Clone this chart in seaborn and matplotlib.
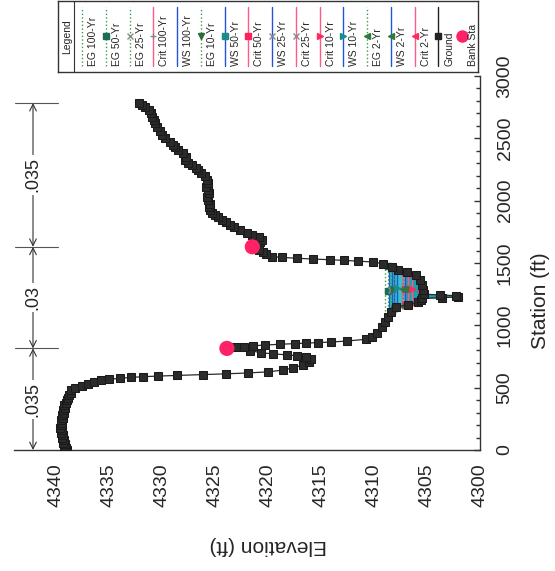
import numpy as np
import matplotlib
matplotlib.use("Agg")
import matplotlib.pyplot as plt
import matplotlib.transforms as mtransforms
from matplotlib.ticker import MultipleLocator
import seaborn as sns

# ground survey points, station (ft) and elevation (ft)
ground_sta = [0, 15, 30, 45, 60, 80, 100, 120, 140, 160, 180, 200, 220, 240, 260, 280, 300,
              320, 340, 360, 380, 400, 420, 440, 460, 481, 500, 515, 530, 545, 558, 567, 575,
              582, 588, 593, 598, 604, 611, 618, 627, 641, 658, 682, 706, 730, 748, 756, 763,
              771, 780, 798, 815, 824, 830, 836, 842, 848, 853, 857, 861, 866, 874, 888, 910,
              940, 985, 1030, 1067, 1110, 1147, 1165, 1185, 1205, 1216, 1222, 1228, 1238, 1244,
              1250, 1280, 1320, 1360, 1400, 1425, 1440, 1467, 1495, 1508, 1515, 1521, 1526, 1532,
              1538, 1545, 1552, 1570, 1590, 1608, 1630, 1648, 1665, 1685, 1708, 1725, 1742, 1764,
              1785, 1804, 1825, 1844, 1865, 1884, 1905, 1925, 1950, 1975, 2005, 2030, 2060, 2085,
              2110, 2140, 2165, 2195, 2221, 2245, 2261, 2285, 2305, 2325, 2350, 2382, 2406, 2430,
              2450, 2470, 2500, 2526, 2555, 2590, 2620, 2645, 2670, 2700, 2726, 2750, 2770, 2783]
ground_elev = [4339.0, 4339.1, 4339.3, 4339.2, 4339.4, 4339.3, 4339.5, 4339.4, 4339.6, 4339.5,
               4339.7, 4339.6, 4339.5, 4339.6, 4339.4, 4339.5, 4339.3, 4339.4, 4339.2, 4339.3,
               4339.1, 4339.0, 4338.9, 4338.8, 4338.6, 4338.6, 4338.2, 4337.6, 4337.0, 4336.4,
               4335.8, 4335.0, 4334.0, 4333.0, 4331.8, 4330.4, 4328.6, 4326.2, 4324.0, 4321.9,
               4320.0, 4318.6, 4317.7, 4316.7, 4316.1, 4316.0, 4316.4, 4317.3, 4318.2, 4319.5,
               4320.7, 4321.7, 4323.9, 4323.0, 4322.3, 4321.4, 4320.3, 4318.9, 4317.5, 4316.4,
               4315.3, 4314.1, 4312.6, 4310.8, 4310.2, 4309.7, 4309.3, 4309.0, 4308.7, 4308.4,
               4307.9, 4306.8, 4305.9, 4305.6, 4305.5, 4303.6, 4302.1, 4302.3, 4303.8, 4305.3,
               4305.4, 4305.5, 4305.7, 4306.0, 4306.9, 4307.7, 4308.3, 4309.2, 4310.1, 4311.5,
               4312.8, 4314.2, 4315.8, 4317.3, 4318.7, 4319.6, 4320.2, 4320.5, 4320.9, 4321.5,
               4321.2, 4320.8, 4320.6, 4320.9, 4321.5, 4322.0, 4322.7, 4323.2, 4323.6, 4324.0,
               4324.4, 4324.7, 4325.0, 4325.3, 4325.5, 4325.6, 4325.5, 4325.7, 4325.8, 4325.6,
               4325.7, 4325.9, 4325.7, 4325.8, 4326.0, 4326.3, 4326.6, 4326.8, 4327.2, 4327.6,
               4327.9, 4327.8, 4328.0, 4328.5, 4328.8, 4329.0, 4329.3, 4329.7, 4330.0, 4330.2,
               4330.5, 4330.7, 4330.8, 4331.0, 4331.1, 4331.3, 4331.6, 4331.9, 4332.2]

bank_sta = [815, 1630]
bank_elev = [4323.9, 4321.5]

# manning's n regions
n_bounds = [0, 815, 1630, 2783]
n_values = [".035", ".03", ".035"]

profiles = ["100-Yr", "50-Yr", "25-Yr", "10-Yr", "2-Yr"]
ws_elev = [4308.6, 4308.35, 4308.1, 4307.8, 4307.1]
eg_elev = [4309.0, 4308.7, 4308.45, 4308.1, 4307.3]
crit_elev = [4307.4, 4307.1, 4306.8, 4306.4, 4305.7]

EG_C, WS_C, CR_C = "#3f9a45", "#1f55d6", "#ff5a86"
prof_marker = [None, "s", "x", ">", "<"]
eg_mc = [EG_C, "#1e6b57", "#8a8a8a", "#2d6b3a", "#2d7a3a"]
ws_mc = [WS_C, "#1e8a8a", "#8a8a8a", "#1a8c8c", "#2d7a3a"]
cr_mc = ["#888888", "#ff1f5a", "#8a8a8a", "#ff2a5f", "#ff2a5f"]

W, H = 555, 571

sns.set_theme(style="white")
plt.rcParams["font.family"] = ["Liberation Sans", "DejaVu Sans"]

sta = np.asarray(ground_sta, float)
el = np.asarray(ground_elev, float)


def wet_extent(z):
    """stations where the water level z meets the ground on each side of the thalweg"""
    i0 = int(np.argmin(el))
    i = i0
    while i > 0 and el[i - 1] < z:
        i -= 1
    s_left = np.interp(z, [el[i], el[i - 1]], [sta[i], sta[i - 1]])
    j = i0
    while j < len(el) - 1 and el[j + 1] < z:
        j += 1
    s_right = np.interp(z, [el[j], el[j + 1]], [sta[j], sta[j + 1]])
    return s_left, s_right


fig = plt.figure(figsize=(W / 100, H / 100), dpi=100)
ax = fig.add_axes([14 / W, (H - 450) / H, 466 / W, 374 / H])

# water fill
ax.fill_betweenx(sta, el, ws_elev[0], where=el < ws_elev[0], interpolate=True,
                 color="#34c3cf", lw=0, zorder=1)
ax.fill_betweenx(sta, el, ws_elev[-1], where=el < ws_elev[-1], interpolate=True,
                 color="#1d9fae", lw=0, zorder=1)

# profile lines
for k in range(len(profiles)):
    for z, c, ls, mc in [(eg_elev[k], EG_C, ":", eg_mc[k]),
                         (ws_elev[k], WS_C, "-", ws_mc[k]),
                         (crit_elev[k], CR_C, "-", cr_mc[k])]:
        s0, s1 = wet_extent(z)
        mk = prof_marker[k] if prof_marker[k] else ("+" if c == CR_C else None)
        ax.plot([z, z, z], [s0, (s0 + s1) / 2, s1], color=c, ls=ls, lw=1,
                marker=mk, mfc=mc, mec=mc, ms=4.5, zorder=2)

# ground
sns.lineplot(x=ground_elev, y=ground_sta, sort=False, estimator=None, ax=ax,
             color="#2a2a2a", lw=0.9, marker="s", markersize=6,
             markerfacecolor="#2b2b2b", markeredgecolor="#1a1a1a", zorder=3)
sns.scatterplot(x=bank_elev, y=bank_sta, ax=ax, color="#ff2266", s=120,
                edgecolor="none", zorder=4)

ax.set_xlim(4344, 4300)
ax.set_ylim(0, 3000)
ax.xaxis.set_major_locator(MultipleLocator(5))
ax.xaxis.set_minor_locator(MultipleLocator(2.5))
ax.yaxis.set_major_locator(MultipleLocator(500))
ax.yaxis.set_minor_locator(MultipleLocator(100))
ax.yaxis.tick_right()
ax.tick_params(axis="x", which="major", direction="out", length=6.5, width=1,
               labelsize=14, labelrotation=90, pad=3, color="#333")
ax.tick_params(axis="x", which="minor", direction="out", length=3.5, width=1, color="#333")
ax.tick_params(axis="y", which="major", direction="in", length=4, width=1,
               labelsize=14, labelrotation=90, pad=12, color="#333")
ax.tick_params(axis="y", which="minor", direction="in", length=3, width=1, color="#333")
ax.tick_params(left=False, which="both")
for lab in ax.get_yticklabels():
    lab.set_va("center")
for side in ["top", "left"]:
    ax.spines[side].set_visible(False)
for side in ["bottom", "right"]:
    ax.spines[side].set_color("#333")
    ax.spines[side].set_linewidth(1)

ax.set_xlabel("Elevation (ft)", fontsize=15, rotation=180)
ax.xaxis.set_label_coords(0.545, -0.255)
ax.xaxis.label.set_va("center")
ax.yaxis.set_label_position("right")
ax.set_ylabel("Station (ft)", fontsize=15, rotation=90)
ax.yaxis.set_label_coords(1.129, 0.40)
ax.yaxis.label.set_va("center")

# n values along the left
trans = mtransforms.blended_transform_factory(ax.transAxes, ax.transData)
xa = (33 - 14) / 466
for b in n_bounds[1:]:
    ax.plot([0.002, 0.094], [b, b], transform=trans, color="#555", lw=0.8, clip_on=False)
for k in range(len(n_values)):
    ax.annotate("", xy=(xa, n_bounds[k]), xytext=(xa, n_bounds[k + 1]),
                xycoords=trans, textcoords=trans,
                arrowprops=dict(arrowstyle="<->", color="#333", lw=0.8,
                                shrinkA=0, shrinkB=0))
    ax.text(xa, (n_bounds[k] + n_bounds[k + 1]) / 2, n_values[k], transform=trans,
            rotation=90, ha="center", va="center", fontsize=13, color="#222",
            bbox=dict(fc="white", ec="none", pad=1.5))

# legend strip
legend_items = [
    ("EG 100-Yr", EG_C, ":", None, None),
    ("EG 50-Yr", EG_C, ":", "s", eg_mc[1]),
    ("EG 25-Yr", EG_C, ":", "x", eg_mc[2]),
    ("Crit 100-Yr", CR_C, "-", "+", cr_mc[0]),
    ("WS 100-Yr", WS_C, "-", None, None),
    ("EG 10-Yr", EG_C, ":", "v", eg_mc[3]),
    ("WS 50-Yr", WS_C, "-", "s", ws_mc[1]),
    ("Crit 50-Yr", CR_C, "-", "s", cr_mc[1]),
    ("WS 25-Yr", WS_C, "-", "x", ws_mc[2]),
    ("Crit 25-Yr", CR_C, "-", "x", cr_mc[2]),
    ("Crit 10-Yr", CR_C, "-", ">", cr_mc[3]),
    ("WS 10-Yr", WS_C, "-", ">", ws_mc[3]),
    ("EG 2-Yr", EG_C, ":", "<", eg_mc[4]),
    ("WS 2-Yr", WS_C, "-", "<", ws_mc[4]),
    ("Crit 2-Yr", CR_C, "-", "<", cr_mc[4]),
    ("Ground", "#222", "-", "s", "#222"),
    ("Bank Sta", None, None, "o", "#ff2266"),
]
lax = fig.add_axes([58 / W, (H - 72) / H, 420 / W, 71 / H])
lax.set_xlim(0, 420)
lax.set_ylim(0, 71)
lax.set_xticks([])
lax.set_yticks([])
for sp in lax.spines.values():
    sp.set_color("#333")
    sp.set_linewidth(1)
lax.text(9, 35, "Legend", rotation=90, ha="center", va="center", fontsize=7.5)
lax.axvline(16, color="#333", lw=0.8)
step = (420 - 16) / len(legend_items)
for i, (label, c, ls, mk, mc) in enumerate(legend_items):
    x0 = 16 + i * step
    if c is not None:
        lax.plot([x0 + 8, x0 + 8], [6, 65], color=c, ls=ls, lw=1)
    if mk is not None:
        lax.plot([x0 + 8], [35.5], marker=mk, color=mc, mfc=mc, mec=mc,
                 ms=8 if mk == "o" else 4.5)
    lax.text(x0 + 19, 6, label, rotation=90, ha="center", va="bottom", fontsize=7.5)

fig.savefig("out.png", dpi=100)
